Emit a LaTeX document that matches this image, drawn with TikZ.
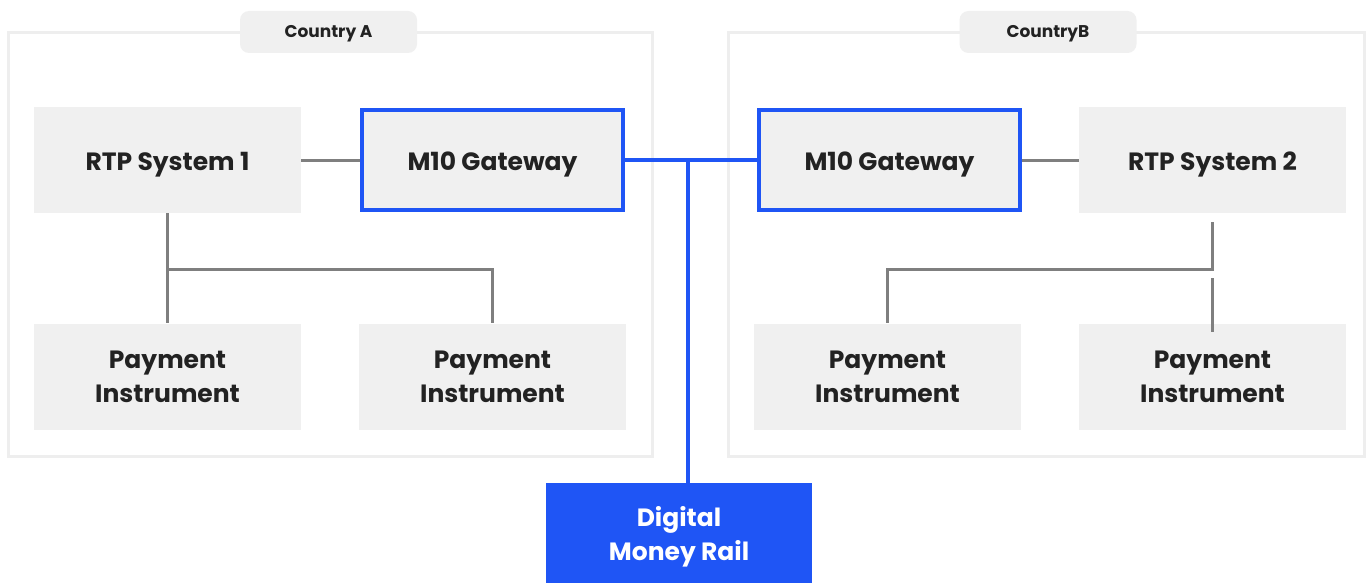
\documentclass[tikz,border=0pt]{standalone}
\usepackage{fontspec}
\setmainfont{Poppins}
\usepackage{tikz}
\usetikzlibrary{positioning,calc}
\definecolor{boxgray}{HTML}{F0F0F0}
\definecolor{framegray}{HTML}{EEEEEE}
\definecolor{linkgray}{HTML}{7F7F7F}
\definecolor{railblue}{HTML}{1F55F5}
\definecolor{inkdark}{HTML}{222222}

\begin{document}
\begin{tikzpicture}[
    x=1pt, y=-1pt,
    block/.style={rectangle, fill=boxgray, minimum width=267pt, minimum height=106pt, inner sep=0pt, align=center, text=inkdark, font=\fontsize{25}{34}\selectfont\bfseries},
    oneline/.style={text height=21pt, text depth=0pt},
    gateway/.style={block, oneline, draw=railblue, line width=4pt, minimum width=261pt, minimum height=100pt},
    tag/.style={rectangle, rounded corners=9pt, fill=boxgray, minimum width=177pt, minimum height=42pt, inner sep=0pt, text height=12pt, text depth=0pt, text=inkdark, font=\fontsize{17}{20}\selectfont\bfseries},
    frame/.style={draw=framegray, line width=3pt},
    link/.style={draw=linkgray, line width=3pt},
    railink/.style={draw=railblue, line width=4pt}
]
\useasboundingbox[fill=white] (0,0) rectangle (1372,583);

% Country frames
\draw[frame] (8,33) rectangle (652,456);
\draw[frame] (728,33) rectangle (1364,456);
\node[tag] (tagA) at (328.5,32) {Country A};
\node[tag] (tagB) at (1048,32) {CountryB};

% Country A
\node[block, oneline] (rtp1) at (167.5,160) {RTP System 1};
\node[gateway] (gwA) at (492.5,160) {M10 Gateway};
\node[block] (payA1) at (167.5,376.5) {Payment\\Instrument};
\node[block] (payA2) at (492.5,376.5) {Payment\\Instrument};

% Country B
\node[gateway] (gwB) at (889.5,160) {M10 Gateway};
\node[block, oneline] (rtp2) at (1212.5,160) {RTP System 2};
\node[block] (payB1) at (887.5,376.5) {Payment\\Instrument};
\node[block] (payB2) at (1212.5,376.5) {Payment\\Instrument};

% Rail
\node[block, fill=railblue, text=white, minimum width=266pt, minimum height=107pt] (rail) at (679,536.5) {Digital\\Money Rail};

% Local links
\coordinate (splitA) at (167.5,269);
\coordinate (splitB) at (1212.5,269);
\draw[link] (rtp1) -- (gwA);
\draw[link] (rtp1.south) -- (payA1.north);
\draw[link] (splitA) -| (payA2.north);
\draw[link] (gwB) -- (rtp2);
\draw[link] ($(rtp2.south)+(0,9)$) -- (splitB);
\draw[link] ($(splitB)+(1.5,0)$) -| (payB1.north);
\draw[link] ($(splitB)+(0,9)$) -- ($(payB2.north)+(0,9)$);

% Rail links
\coordinate (hub) at (688,160);
\draw[railink] (gwA) -- (gwB);
\draw[railink] (hub) -- (hub |- rail.north);

\end{tikzpicture}
\end{document}
